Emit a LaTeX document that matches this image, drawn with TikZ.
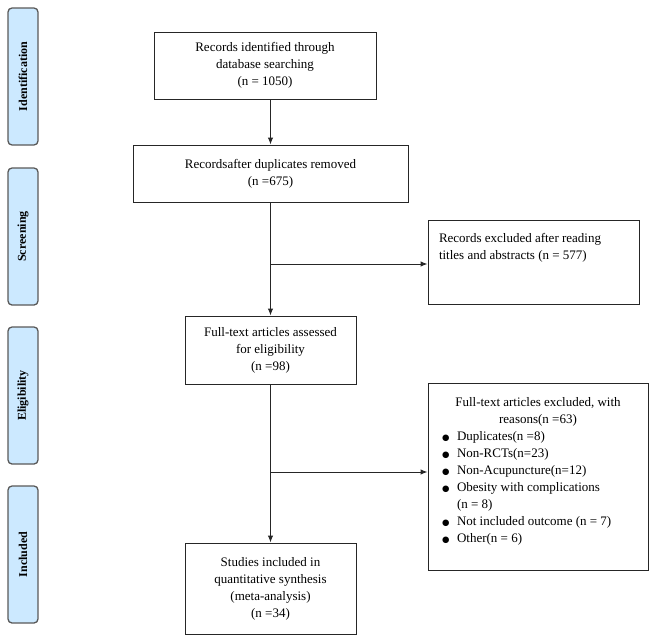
\documentclass[tikz,border=0pt]{standalone}
\usepackage{fontspec}
\setmainfont{Liberation Serif}
\newfontfamily\dotfont{DejaVu Sans}
\usetikzlibrary{arrows.meta}
\definecolor{stagefill}{HTML}{CCE9FF}
\newcommand{\bulletline}[1]{\hspace*{10pt}\makebox[15pt][l]{\dotfont\fontsize{8.5}{17}\selectfont ●}#1}

\begin{document}
\begin{tikzpicture}[x=1pt, y=-1pt, >={Latex[length=7pt,width=5.5pt]},
                        every node/.style={font=\fontsize{13}{17}\selectfont},
                        box/.style={rectangle, draw=black!85, line width=1pt, align=center, inner sep=4pt},
                        stage/.style={rectangle, rounded corners=4pt, draw=black!65, line width=1.3pt, fill=stagefill,
                                      rotate=90, minimum width=137pt, minimum height=30pt, inner sep=0pt,
                                      font=\fontsize{12}{14}\selectfont\bfseries},
                        every edge/.style={draw, line width=1pt, black!85}]

                        \useasboundingbox (0,0) rectangle (657,643);

                        % Stages
                        \node[stage] (ident) at (23,76.5) {Identification}; % Stage 1
                        \node[stage] (screen) at (23,236.5) {Screening}; % Stage 2
                        \node[stage] (elig) at (23,395.5) {Eligibility}; % Stage 3
                        \node[stage] (inclst) at (23,554.5) {Included}; % Stage 4

                        % Main flow
                        \node[box, minimum width=222pt, minimum height=67pt] (found) at (265,65.5) {Records identified through\\ database searching\\ (n = 1050)}; % Search
                        \node[box, minimum width=275pt, minimum height=57pt] (dedup) at (270.5,173.5) {Recordsafter duplicates removed\\ (n =675)}; % After duplicates
                        \node[box, minimum width=171pt, minimum height=68pt] (full) at (270.5,350) {Full-text articles assessed\\ for eligibility\\ (n =98)}; % Full text
                        \node[box, minimum width=171pt, minimum height=91pt] (incl) at (270.5,588.5) {Studies included in\\ quantitative synthesis\\ (meta-analysis)\\ (n =34)}; % Included

                        % Excluded
                        \node[box, inner xsep=11pt, minimum width=211pt, minimum height=84pt] (excl1) at (533.5,262) {\parbox[c][76pt][t]{189pt}{\vspace*{9pt}\raggedright Records excluded after reading\\ titles and abstracts (n = 577)}}; % After titles
                        \node[box, minimum width=220pt, minimum height=187pt] (excl2) at (538,476.5) {\parbox[c][179pt][t]{212pt}{\vspace*{10pt}\centering Full-text articles excluded, with\\ reasons(n =63)\par
                            \raggedright
                            \bulletline{Duplicates(n =8)}\\
                            \bulletline{Non-RCTs(n=23)}\\
                            \bulletline{Non-Acupuncture(n=12)}\\
                            \bulletline{Obesity with complications}\\
                            \hspace*{25pt}(n = 8)\\
                            \bulletline{Not included outcome (n = 7)}\\
                            \bulletline{Other(n = 6)}}}; % With reasons

                        \coordinate (cut1) at (270.5,264); % Branch to excl1
                        \coordinate (cut2) at (270.5,472); % Branch to excl2

                        % Define edges
                        \path [->](dedup.north |- found.south) edge (dedup.north);
                        \path [->](dedup.south) edge (full.north);
                        \path [->](cut1) edge (cut1 -| excl1.west);
                        \path [->](full.south) edge (incl.north);
                        \path [->](cut2) edge (cut2 -| excl2.west);
                    \end{tikzpicture}
\end{document}
